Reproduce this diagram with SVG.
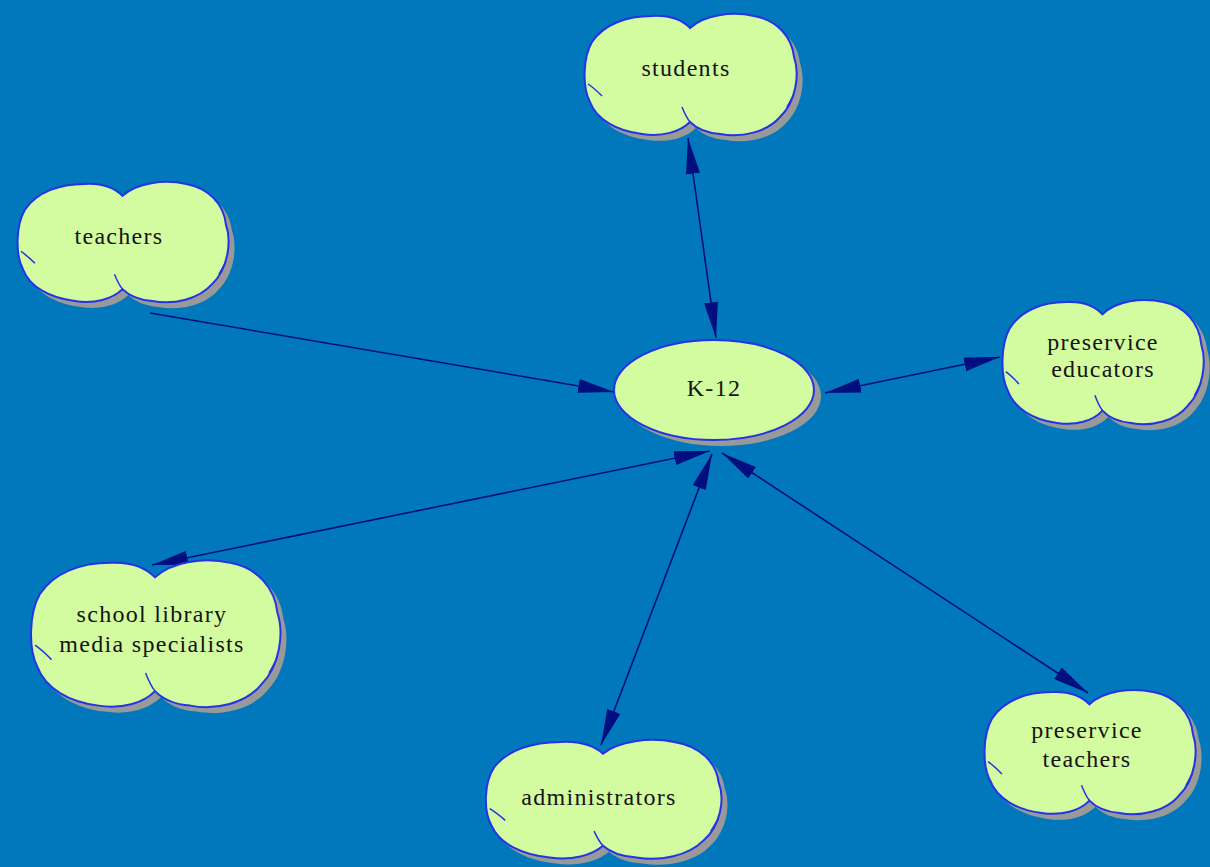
<svg xmlns="http://www.w3.org/2000/svg" xmlns:xlink="http://www.w3.org/1999/xlink" width="1210" height="867" viewBox="0 0 1210 867">
<style>
.bg{fill:#0178BC}
.shadow{fill:#999999;stroke:none}
.cloud{fill:#D3FB9F;stroke:#2433E6;stroke-width:2}
.crease{fill:none;stroke:#2433E6;stroke-width:1.5}
.lbl{font-family:"Liberation Serif","Times New Roman",serif;font-size:24px;fill:#141414;text-anchor:middle;letter-spacing:1.3px}
.conn{stroke:#000E80;stroke-width:1.6;fill:none;marker-end:url(#ah)}
.both{marker-start:url(#ah)}
</style>
<defs>
<marker id="ah" viewBox="0 0 36 14" refX="36" refY="7" markerWidth="36" markerHeight="14" markerUnits="userSpaceOnUse" orient="auto-start-reverse">
<path d="M0,0 L36,7 L0,14 Z" fill="#000E80"/>
</marker>
<path id="cloudP" vector-effect="non-scaling-stroke" d="M108,16 C122,3 150,-1 172,4 C195,8 210,25 212,45 C218,62 214,90 198,105 C185,120 160,126 138,122 C125,121 115,117 108,110 C98,120 80,125 60,122 C35,119 15,108 8,90 C0,75 1,45 10,30 C22,12 45,4 70,4 C88,3 100,8 108,16 Z"/>
<path id="cloudC" vector-effect="non-scaling-stroke" d="M108,110 C104,105 102,100 100,95 M6,72 C12,76 16,80 20,84 M205,95 C208,90 210,86 212,82"/>
</defs>
<rect class="bg" x="0" y="0" width="1210" height="867"/>

<g id="connectors">
<line class="conn both" x1="688" y1="138" x2="716" y2="338"/>
<line class="conn" x1="150" y1="313" x2="614" y2="392"/>
<line class="conn both" x1="825" y1="393" x2="1000" y2="357"/>
<line class="conn both" x1="152" y1="565" x2="710" y2="451"/>
<line class="conn both" x1="601" y1="745" x2="712" y2="454"/>
<line class="conn both" x1="1088" y1="693" x2="722" y2="453"/>
</g>

<g id="node-k12">
<ellipse class="shadow" cx="721" cy="396" rx="100" ry="50"/>
<ellipse class="cloud" cx="714" cy="390" rx="100" ry="50"/>
<text class="lbl" x="714" y="396">K-12</text>
</g>

<g id="node-students">
<use href="#cloudP" class="shadow" transform="translate(588,18)"/>
<use href="#cloudP" class="cloud" transform="translate(582,12)"/>
<use href="#cloudC" class="crease" transform="translate(582,12)"/>
<text class="lbl" x="686" y="76">students</text>
</g>

<g id="node-teachers">
<use href="#cloudP" class="shadow" transform="translate(21,186) scale(0.995,0.992)"/>
<use href="#cloudP" class="cloud" transform="translate(15,180) scale(0.995,0.992)"/>
<use href="#cloudC" class="crease" transform="translate(15,180) scale(0.995,0.992)"/>
<text class="lbl" x="119" y="244">teachers</text>
</g>

<g id="node-preservice-educators">
<use href="#cloudP" class="shadow" transform="translate(1006,304) scale(0.949,1.024)"/>
<use href="#cloudP" class="cloud" transform="translate(1000,298) scale(0.949,1.024)"/>
<use href="#cloudC" class="crease" transform="translate(1000,298) scale(0.949,1.024)"/>
<text class="lbl" x="1103" y="350">preservice</text>
<text class="lbl" x="1103" y="377">educators</text>
</g>

<g id="node-school-library">
<use href="#cloudP" class="shadow" transform="translate(34,564) scale(1.176,1.21)"/>
<use href="#cloudP" class="cloud" transform="translate(28,558) scale(1.176,1.21)"/>
<use href="#cloudC" class="crease" transform="translate(28,558) scale(1.176,1.21)"/>
<text class="lbl" x="152" y="622">school library</text>
<text class="lbl" x="152" y="652">media specialists</text>
</g>

<g id="node-administrators">
<use href="#cloudP" class="shadow" transform="translate(489,744) scale(1.111,0.98)"/>
<use href="#cloudP" class="cloud" transform="translate(483,738) scale(1.111,0.98)"/>
<use href="#cloudC" class="crease" transform="translate(483,738) scale(1.111,0.98)"/>
<text class="lbl" x="599" y="805">administrators</text>
</g>

<g id="node-preservice-teachers">
<use href="#cloudP" class="shadow" transform="translate(988,694) scale(0.995,1.024)"/>
<use href="#cloudP" class="cloud" transform="translate(982,688) scale(0.995,1.024)"/>
<use href="#cloudC" class="crease" transform="translate(982,688) scale(0.995,1.024)"/>
<text class="lbl" x="1087" y="738">preservice</text>
<text class="lbl" x="1087" y="767">teachers</text>
</g>
</svg>
